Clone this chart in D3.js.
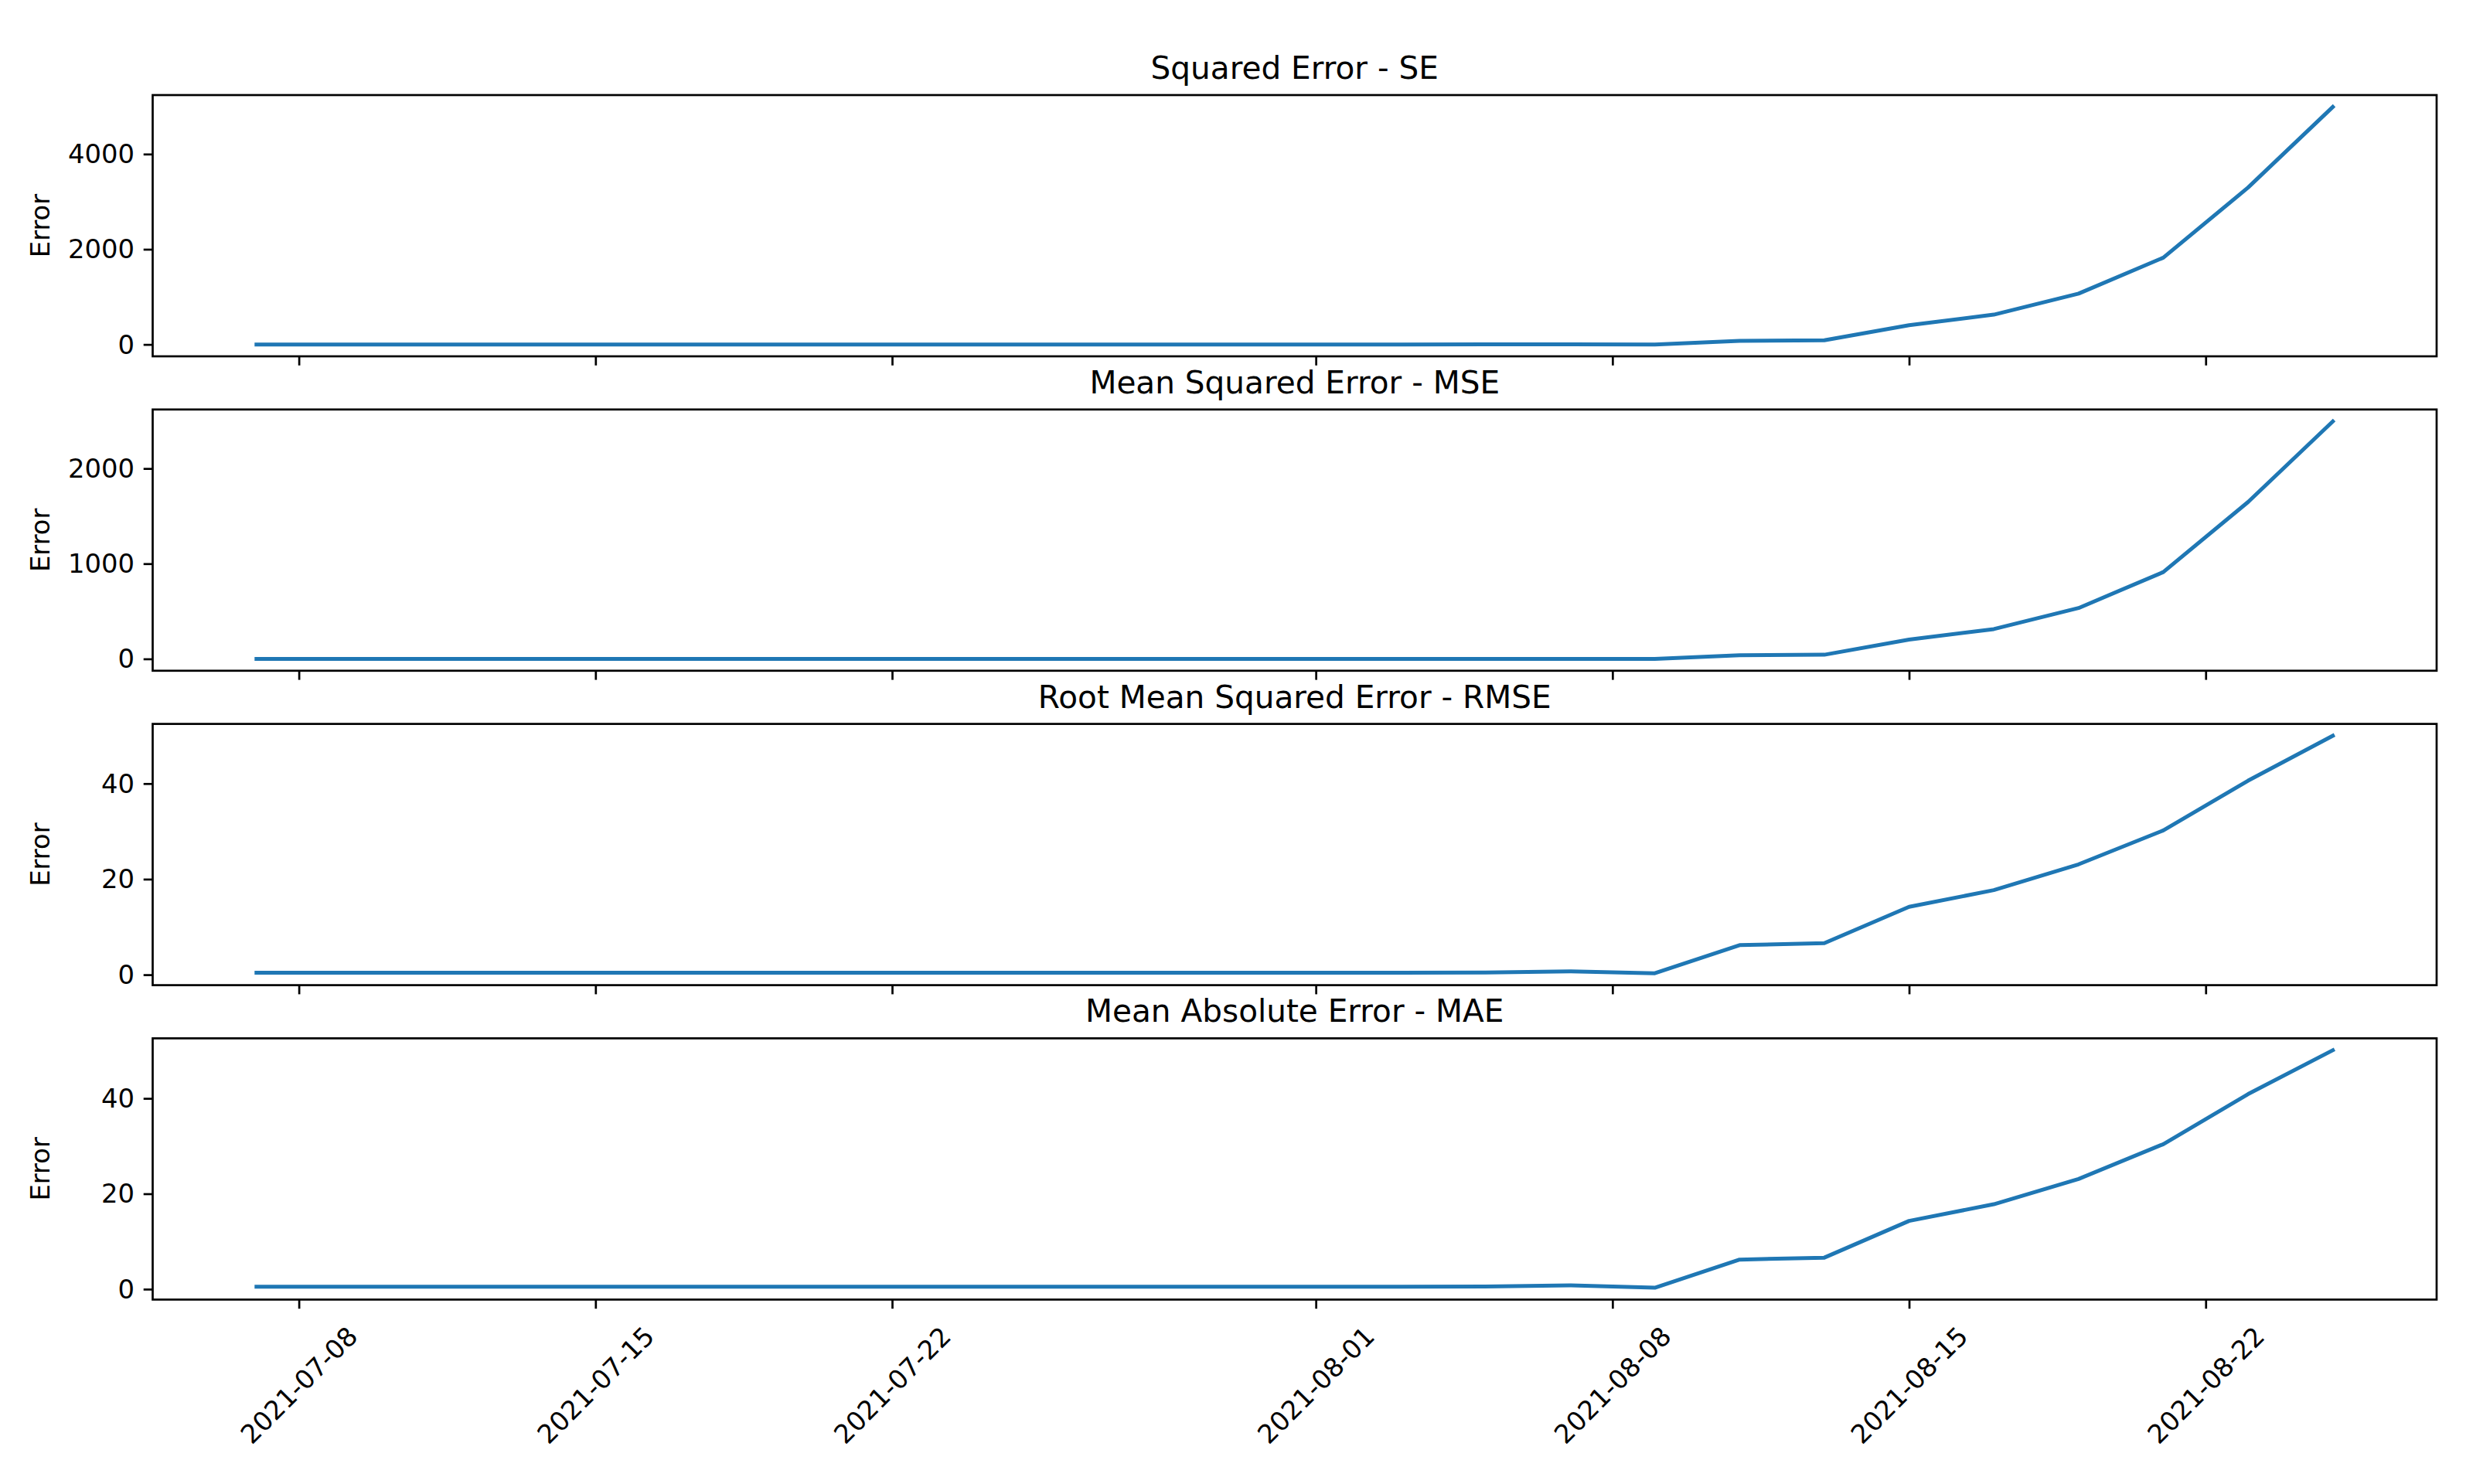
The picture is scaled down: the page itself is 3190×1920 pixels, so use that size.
<!DOCTYPE html>
<html>
<head>
<meta charset="utf-8">
<script src="https://cdn.jsdelivr.net/npm/d3@7"></script>
<style>
  html, body { margin: 0; padding: 0; background: #ffffff; }
  svg { display: block; }
  text { font-family: "DejaVu Sans", sans-serif; fill: #000; }
</style>
</head>
<body>
<script>
// ---------------- data ----------------
const dates = [
  "2021-07-07","2021-07-09","2021-07-11","2021-07-13","2021-07-15","2021-07-17","2021-07-19",
  "2021-07-21","2021-07-23","2021-07-25","2021-07-27","2021-07-29","2021-07-31",
  "2021-08-01","2021-08-03","2021-08-05","2021-08-07","2021-08-09","2021-08-11","2021-08-13",
  "2021-08-15","2021-08-17","2021-08-19","2021-08-21","2021-08-23","2021-08-25"
];
const seValues = [0.32,0.32,0.32,0.32,0.32,0.32,0.32,0.32,0.32,0.32,0.32,0.32,0.32,0.32,0.32,
  0.4,1.0,0.18,77,87,404,626,1068,1824,3296,4990];
const mseValues = [0.16,0.16,0.16,0.16,0.16,0.16,0.16,0.16,0.16,0.16,0.16,0.16,0.16,0.16,0.16,
  0.2,0.5,0.09,38.5,43.5,202,313,534,912,1648,2495];
const rmseValues = [0.4,0.4,0.4,0.4,0.4,0.4,0.4,0.4,0.4,0.4,0.4,0.4,0.4,0.4,0.4,
  0.45,0.7,0.3,6.2,6.6,14.2,17.7,23.1,30.2,40.6,50.0];
const maeValues = [0.5,0.5,0.5,0.5,0.5,0.5,0.5,0.5,0.5,0.5,0.5,0.5,0.5,0.5,0.5,
  0.55,0.8,0.3,6.2,6.6,14.3,17.8,23.1,30.4,40.9,50.1];

const titles = ["Squared Error - SE", "Mean Squared Error - MSE",
                "Root Mean Squared Error - RMSE", "Mean Absolute Error - MAE"];
const yLabel = "Error";
const seTicks = [0, 2000, 4000];
const mseTicks = [0, 1000, 2000];
const rmseTicks = [0, 20, 40];
const maeTicks = [0, 20, 40];
const xTickLabels = ["2021-07-08","2021-07-15","2021-07-22","2021-08-01","2021-08-08","2021-08-15","2021-08-22"];

// ---------------- layout ----------------
const W = 3190, H = 1920;
const left = 197.5, right = 3152;
const top0 = 123, step = 406.8, panelH = 338;
const fsTick = 33.8, fsTitle = 40.6;
const tickLen = 11.8, tickPad = 11.8, spineW = 2.7;
const lineColor = "#1f77b4", lineW = 5;

const parse = d3.utcParse("%Y-%m-%d");
const xDates = dates.map(parse);

const svg = d3.select("body").append("svg")
  .attr("width", W).attr("height", H)
  .attr("viewBox", `0 0 ${W} ${H}`);
svg.append("rect").attr("width", W).attr("height", H).attr("fill", "#fff");

// x scale with 5% margins (matplotlib autoscale)
const xExt = d3.extent(xDates);
const xSpan = xExt[1] - xExt[0];
const x = d3.scaleUtc()
  .domain([new Date(+xExt[0] - 0.05 * xSpan), new Date(+xExt[1] + 0.05 * xSpan)])
  .range([left, right]);
const xTickDates = xTickLabels.map(parse);

const panels = [
  { values: seValues, ticks: seTicks, title: titles[0] },
  { values: mseValues, ticks: mseTicks, title: titles[1] },
  { values: rmseValues, ticks: rmseTicks, title: titles[2] },
  { values: maeValues, ticks: maeTicks, title: titles[3] }
];

panels.forEach((p, i) => {
  const top = top0 + i * step;
  const bottom = top + panelH;
  const ext = d3.extent(p.values);
  const span = ext[1] - ext[0];
  const y = d3.scaleLinear()
    .domain([ext[0] - 0.05 * span, ext[1] + 0.05 * span])
    .range([bottom, top]);

  const g = svg.append("g");

  // line
  const line = d3.line()
    .x((d, k) => x(xDates[k]))
    .y(d => y(d));
  g.append("path")
    .datum(p.values)
    .attr("d", line)
    .attr("fill", "none")
    .attr("stroke", lineColor)
    .attr("stroke-width", lineW)
    .attr("stroke-linejoin", "round")
    .attr("stroke-linecap", "square");

  // y axis
  const yAxis = d3.axisLeft(y)
    .tickValues(p.ticks)
    .tickFormat(d3.format("d"))
    .tickSize(tickLen)
    .tickPadding(tickPad);
  const ya = g.append("g").attr("transform", `translate(${left},0)`).call(yAxis);
  ya.select(".domain").remove();
  ya.selectAll(".tick line").attr("stroke", "#000").attr("stroke-width", spineW);
  ya.selectAll(".tick text")
    .attr("font-size", fsTick)
    .attr("font-family", "DejaVu Sans")
    .attr("dy", null)
    .attr("dominant-baseline", "central");

  // x axis (ticks on every panel, labels only on the last)
  const xAxis = d3.axisBottom(x)
    .tickValues(xTickDates)
    .tickSize(tickLen)
    .tickFormat((d, k) => xTickLabels[k]);
  const xa = g.append("g").attr("transform", `translate(0,${bottom})`).call(xAxis);
  xa.select(".domain").remove();
  xa.selectAll(".tick line").attr("stroke", "#000").attr("stroke-width", spineW);
  if (i < panels.length - 1) {
    xa.selectAll(".tick text").remove();
  } else {
    xa.selectAll(".tick text").each(function() {
      const t = d3.select(this);
      t.attr("font-size", fsTick).attr("font-family", "DejaVu Sans")
        .attr("y", null).attr("dy", null)
        .attr("text-anchor", "middle")
        .attr("dominant-baseline", "central");
      const w = this.getComputedTextLength();
      const h = 1.164 * fsTick;
      const s = (w + h) * Math.SQRT1_2;
      const cy = tickLen + tickPad + s / 2 + 4;
      t.attr("transform", `translate(0,${cy}) rotate(-45)`);
    });
  }

  // frame
  g.append("rect")
    .attr("x", left).attr("y", top)
    .attr("width", right - left).attr("height", panelH)
    .attr("fill", "none").attr("stroke", "#000").attr("stroke-width", spineW);

  // title
  g.append("text")
    .attr("x", (left + right) / 2)
    .attr("y", top - 21)
    .attr("text-anchor", "middle")
    .attr("font-size", fsTitle)
    .text(p.title);

  // y label
  g.append("text")
    .attr("transform", `translate(64,${(top + bottom) / 2}) rotate(-90)`)
    .attr("text-anchor", "middle")
    .attr("font-size", fsTick)
    .text(yLabel);
});
</script>
</body>
</html>
